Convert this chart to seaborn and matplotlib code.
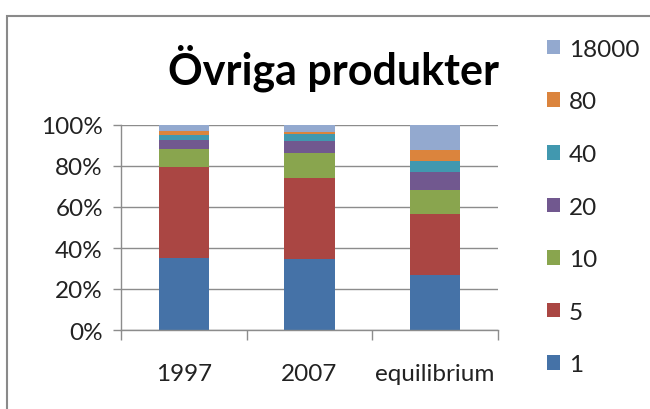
import matplotlib
matplotlib.use('Agg')
import matplotlib.pyplot as plt
import seaborn as sns
import pandas as pd
import numpy as np
from matplotlib.patches import Patch, Rectangle

# ---- data (percent of each bar) ----
categories = ['1997', '2007', 'equilibrium']
series_names = ['1', '5', '10', '20', '40', '80', '18000']
share_1 = [35.3, 34.8, 27.0]
share_5 = [44.4, 39.2, 29.4]
share_10 = [8.8, 12.5, 11.9]
share_20 = [4.4, 5.7, 8.9]
share_40 = [2.4, 3.3, 5.0]
share_80 = [1.8, 1.1, 5.5]
share_18000 = [2.9, 3.4, 12.3]

colors = ['#4572A7', '#AA4643', '#89A54E', '#71588F', '#4198AF', '#DB843D', '#93A9CF']

df = pd.DataFrame({
    'category': np.repeat(categories, len(series_names)),
    'series': series_names * len(categories),
    'value': np.ravel(np.column_stack([share_1, share_5, share_10, share_20,
                                       share_40, share_80, share_18000])),
})
df['series'] = pd.Categorical(df['series'], categories=series_names, ordered=True)
df = df.sort_values(['category', 'series'])
df['top'] = df.groupby('category')['value'].cumsum()
# normalise to 100%
df['top'] = df['top'] / df.groupby('category')['value'].transform('sum') * 100

sns.set_style('white')
plt.rcParams['font.family'] = ['Lato', 'DejaVu Sans']

fig = plt.figure(figsize=(6.5, 4.1), dpi=100)
ax = fig.add_axes([121 / 650, 1 - 331 / 410, 377 / 650, 205 / 410])

# draw cumulative bars from the top segment down so the lower ones overlay
for name, col in reversed(list(zip(series_names, colors))):
    sub = df[df['series'] == name]
    sns.barplot(data=sub, x='category', y='top', order=categories, color=col,
                saturation=1, width=0.4, errorbar=None, ax=ax, zorder=2,
                linewidth=0)

ax.set_xlim(-0.5, 2.5)
ax.set_ylim(0, 100)
ax.set_yticks(range(0, 101, 20))
ax.set_yticklabels([f'{v}%' for v in range(0, 101, 20)])
ax.set_xlabel('')
ax.set_ylabel('')

grid_col = '#8c8c8c'
ax.yaxis.grid(True, color=grid_col, linewidth=1)
ax.set_axisbelow(True)
for s in ['top', 'right']:
    ax.spines[s].set_visible(False)
for s in ['left', 'bottom']:
    ax.spines[s].set_color(grid_col)
    ax.spines[s].set_linewidth(1)

ax.tick_params(axis='y', direction='out', length=6, width=1, color=grid_col,
               pad=7, labelsize=17.5, labelcolor='#222222', left=True)
ax.set_xticks([-0.5, 0.5, 1.5, 2.5], minor=True)
ax.tick_params(axis='x', which='minor', direction='out', length=7, width=1,
               color=grid_col, bottom=True)
ax.tick_params(axis='x', which='major', length=0, pad=24, labelsize=17.5,
               labelcolor='#222222')

fig.text(333 / 650, 1 - 68 / 410, 'Övriga produkter', ha='center', va='center',
         fontsize=31, fontweight='bold', color='black')

handles = [Patch(facecolor=c, edgecolor='none') for c in colors]
leg = fig.legend(handles[::-1], series_names[::-1], loc='upper left',
                 bbox_to_anchor=(537 / 650, 1 - 30 / 410), frameon=False,
                 fontsize=17.5, handlelength=0.55, handleheight=0.55,
                 handletextpad=0.35, labelspacing=1.3, borderaxespad=0)
for t in leg.get_texts():
    t.set_color('#222222')

# chart frame
fig.patches.append(Rectangle((7 / 650, -0.2), 1.0, 1.2 - 17 / 410,
                             transform=fig.transFigure, fill=False,
                             edgecolor='#8a8a8a', linewidth=1.5))

fig.savefig('out.png', dpi=100)
